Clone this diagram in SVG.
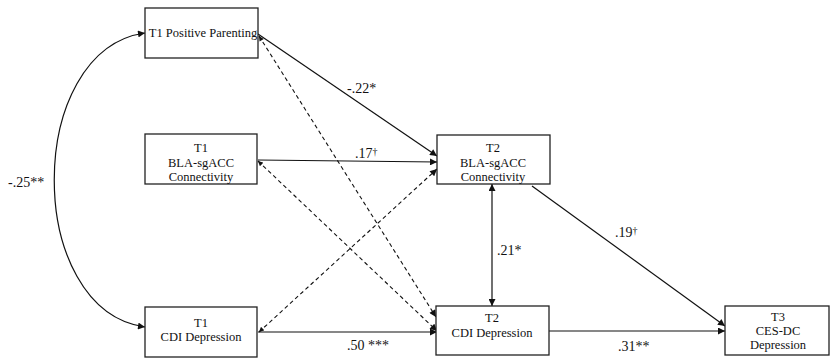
<svg xmlns="http://www.w3.org/2000/svg" width="830" height="361" viewBox="0 0 830 361">
<style>
.box{fill:#fff;stroke:#222;stroke-width:1.3}
.nt{font-size:12.5px;fill:#111;text-anchor:middle}
.lb{font-size:14px;fill:#111}
.sol{fill:none;stroke:#111;stroke-width:1.2}
.dash{fill:none;stroke:#111;stroke-width:1.1;stroke-dasharray:4 3}
.dag{font-size:10px}
</style>
<defs>
<marker id="ah" viewBox="0 0 10 10" refX="10" refY="5" markerWidth="8" markerHeight="7" markerUnits="userSpaceOnUse" orient="auto-start-reverse">
<path d="M0,0 L10,5 L0,10 z" fill="#111"/>
</marker>
<marker id="as" viewBox="0 0 10 10" refX="10" refY="5" markerWidth="6" markerHeight="5" markerUnits="userSpaceOnUse" orient="auto-start-reverse">
<path d="M0,0 L10,5 L0,10 z" fill="#111"/>
</marker>
</defs>
<rect width="830" height="361" fill="#fff"/>
<g font-family="'Liberation Serif', 'DejaVu Serif', 'Times New Roman', serif">
<g id="connectors">
<path class="sol" d="M145,33 C24,50 24,310 145,327" marker-start="url(#ah)" marker-end="url(#ah)"/>
<line class="sol" x1="258" y1="34" x2="437" y2="156" marker-end="url(#ah)"/>
<line class="sol" x1="258" y1="160" x2="437" y2="162" marker-end="url(#ah)"/>
<line class="dash" x1="259" y1="332" x2="437" y2="169" marker-start="url(#as)" marker-end="url(#ah)"/>
<line class="dash" x1="259" y1="36" x2="436" y2="317" marker-start="url(#as)" marker-end="url(#ah)"/>
<line class="dash" x1="258" y1="161" x2="437" y2="331" marker-start="url(#as)" marker-end="url(#ah)"/>
<line class="sol" x1="258" y1="332" x2="437" y2="332" marker-end="url(#ah)"/>
<line class="sol" x1="492" y1="184" x2="492" y2="306" marker-start="url(#ah)" marker-end="url(#ah)"/>
<line class="sol" x1="532" y1="186" x2="725" y2="326" marker-end="url(#ah)"/>
<line class="sol" x1="549" y1="331" x2="725" y2="331" marker-end="url(#ah)"/>
<text class="lb" x="8" y="187">-.25**</text>
<text class="lb" x="347" y="93">-.22*</text>
<text class="lb" x="355" y="158">.17<tspan class="dag" dy="-3">†</tspan></text>
<text class="lb" x="347" y="350">.50 ***</text>
<text class="lb" x="497" y="255">.21*</text>
<text class="lb" x="615" y="237">.19<tspan class="dag" dy="-3">†</tspan></text>
<text class="lb" x="618" y="351">.31**</text>
</g>
<g id="t1pp">
<rect class="box" x="145" y="8" width="113" height="50"/>
<text class="nt" x="203" y="37">T1 Positive Parenting</text>
</g>
<g id="t1bla">
<rect class="box" x="145" y="134" width="112" height="50"/>
<text class="nt" x="201" y="152">T1</text>
<text class="nt" x="201" y="167">BLA-sgACC</text>
<text class="nt" x="201" y="181">Connectivity</text>
</g>
<g id="t1cdi">
<rect class="box" x="145" y="307" width="112" height="50"/>
<text class="nt" x="201" y="327">T1</text>
<text class="nt" x="201" y="341">CDI Depression</text>
</g>
<g id="t2bla">
<rect class="box" x="437" y="135" width="113" height="49"/>
<text class="nt" x="493" y="152">T2</text>
<text class="nt" x="493" y="167">BLA-sgACC</text>
<text class="nt" x="493" y="181">Connectivity</text>
</g>
<g id="t2cdi">
<rect class="box" x="436" y="306" width="113" height="49"/>
<text class="nt" x="492" y="322">T2</text>
<text class="nt" x="492" y="337">CDI Depression</text>
</g>
<g id="t3ces">
<rect class="box" x="725" y="306" width="104" height="49"/>
<text class="nt" x="778" y="321">T3</text>
<text class="nt" x="778" y="335">CES-DC</text>
<text class="nt" x="778" y="349">Depression</text>
</g>
</g>
</svg>
